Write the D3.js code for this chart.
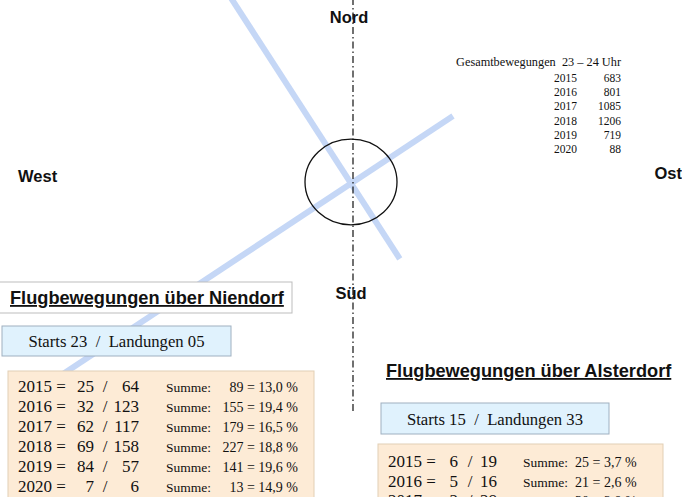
<!DOCTYPE html>
<html>
<head>
<meta charset="utf-8">
<script src="https://cdn.jsdelivr.net/npm/d3@7"></script>
<style>
  body { margin: 0; background: #fff; }
  svg { display: block; }
  text { white-space: pre; }
  .serif { font-family: "Liberation Serif", "Times New Roman", serif; fill: #111; }
  .sans { font-family: "Liberation Sans", Arial, sans-serif; font-weight: bold; fill: #111; }
</style>
</head>
<body>
<svg id="chart" width="682" height="497"></svg>
<script>
// totals 23-24 Uhr
var totalYears = [2015, 2016, 2017, 2018, 2019, 2020];
var totalValues = [683, 801, 1085, 1206, 719, 88];

// Niendorf
var nYears = [2015, 2016, 2017, 2018, 2019, 2020];
var nStarts = [25, 32, 62, 69, 84, 7];
var nLandungen = [64, 123, 117, 158, 57, 6];
var nSumme = [89, 155, 179, 227, 141, 13];
var nProzent = ["13,0", "19,4", "16,5", "18,8", "19,6", "14,9"];

// Alsterdorf (only first rows visible)
var aYears = [2015, 2016, 2017];
var aStarts = [6, 5, 2];
var aLandungen = [19, 16, 28];
var aSumme = [25, 21, 30];
var aProzent = ["3,7", "2,6", "2,8"];

// runway headings in compass plot (endpoints in plot units, centre = 0,0)
var runways = [
  { name: "05/23", x1: -7.2, y1: -4.8, x2: 2.55, y2: 1.65 },
  { name: "15/33", x1: -3.0, y1: 4.6, x2: 1.22, y2: -1.92 }
];

var svg = d3.select("#chart");

// compass scale: 1 unit ~ 40px
var cx = d3.scaleLinear().domain([-1, 1]).range([311, 391]);
var cy = d3.scaleLinear().domain([-1, 1]).range([222, 142]);

// runways
svg.selectAll("line.rw").data(runways).enter().append("line")
  .attr("class", "rw")
  .attr("x1", d => cx(d.x1)).attr("y1", d => cy(d.y1))
  .attr("x2", d => cx(d.x2)).attr("y2", d => cy(d.y2))
  .attr("stroke", "#c5d7f6").attr("stroke-width", 6);

// north-south axis
svg.append("line")
  .attr("x1", cx(0.05)).attr("x2", cx(0.05))
  .attr("y1", cy(4.6)).attr("y2", cy(-5.8))
  .attr("stroke", "#111").attr("stroke-width", 1.2)
  .attr("stroke-dasharray", "7,3,1.5,3");

// circle
svg.append("ellipse")
  .attr("cx", cx(0)).attr("cy", cy(0))
  .attr("rx", cx(1.15) - cx(0)).attr("ry", cy(0) - cy(1.07))
  .attr("fill", "none").attr("stroke", "#111").attr("stroke-width", 1.3);

// directions
var dirs = [["Nord", 349, 23, "middle"], ["Süd", 351, 299, "middle"], ["West", 18, 182, "start"], ["Ost", 682, 179, "end"]];
dirs.forEach(function (d) {
  svg.append("text").attr("class", "sans").attr("x", d[1]).attr("y", d[2])
    .attr("text-anchor", d[3]).attr("font-size", 16.5).text(d[0]);
});

// totals legend
svg.append("text").attr("class", "serif").attr("x", 621).attr("y", 66)
  .attr("text-anchor", "end").attr("font-size", 12.3)
  .text("Gesamtbewegungen  23 – 24 Uhr");
var ty = d3.scalePoint().domain(totalYears).range([82, 153]);
var tg = svg.append("g").attr("class", "serif").attr("font-size", 11.5);
tg.selectAll("text.y").data(totalYears).enter().append("text")
  .attr("x", 577).attr("y", d => ty(d)).attr("text-anchor", "end").text(d => d);
tg.selectAll("text.v").data(totalValues).enter().append("text")
  .attr("x", 621).attr("y", (d, i) => ty(totalYears[i])).attr("text-anchor", "end").text(d => d);

function block(o) {
  // title
  if (o.titleBox) {
    svg.append("rect").attr("x", o.titleBox[0]).attr("y", o.titleBox[1])
      .attr("width", o.titleBox[2]).attr("height", o.titleBox[3])
      .attr("fill", "#fff").attr("stroke", "#bdbdbd");
  }
  svg.append("text").attr("class", "sans").attr("x", o.titleX).attr("y", o.titleY)
    .attr("font-size", 18.2).attr("text-decoration", "underline").text(o.title);

  // starts / landungen box
  var sb = o.startBox;
  svg.append("rect").attr("x", sb[0]).attr("y", sb[1]).attr("width", sb[2]).attr("height", sb[3])
    .attr("fill", "#e0f2fd").attr("stroke", "#9fb0c0");
  svg.append("text").attr("class", "serif").attr("x", sb[0] + sb[2] / 2).attr("y", sb[1] + sb[3] / 2 + 6)
    .attr("text-anchor", "middle").attr("font-size", 16.7)
    .text(o.startText);

  // table box
  var tb = o.tableBox;
  svg.append("rect").attr("x", tb[0]).attr("y", tb[1]).attr("width", tb[2]).attr("height", tb[3])
    .attr("fill", "#fdebd6").attr("stroke", "#e2cfb5");

  var ry = d3.scalePoint().domain(o.years).range([o.rowY0, o.rowY0 + o.rowStep * (o.years.length - 1)]);
  var g = svg.append("g").attr("class", "serif");
  o.years.forEach(function (yr, i) {
    var y = ry(yr);
    g.append("text").attr("x", o.colX[0]).attr("y", y).attr("font-size", 17).text(yr + " =");
    g.append("text").attr("x", o.colX[1]).attr("y", y).attr("font-size", 17).attr("text-anchor", "end").text(o.starts[i]);
    g.append("text").attr("x", o.colX[2]).attr("y", y).attr("font-size", 17).attr("text-anchor", "middle").text("/");
    g.append("text").attr("x", o.colX[3]).attr("y", y).attr("font-size", 17).attr("text-anchor", "end").text(o.landungen[i]);
    g.append("text").attr("x", o.colX[4]).attr("y", y).attr("font-size", 13.5).text("Summe:");
    g.append("text").attr("x", o.colX[5]).attr("y", y).attr("font-size", 14).attr("text-anchor", o.sumAnchor)
      .text(o.summe[i] + " = " + o.prozent[i] + " %");
  });
}

block({
  title: "Flugbewegungen über Niendorf", titleX: 10, titleY: 304,
  titleBox: [-2, 282, 294, 31],
  startBox: [2, 326, 229, 30], startText: "Starts 23  /  Landungen 05",
  tableBox: [8, 371, 306, 140],
  years: nYears, starts: nStarts, landungen: nLandungen, summe: nSumme, prozent: nProzent,
  rowY0: 392, rowStep: 20,
  colX: [18, 94, 105, 139, 166, 298], sumAnchor: "end"
});

block({
  title: "Flugbewegungen über Alsterdorf", titleX: 386, titleY: 377,
  titleBox: null,
  startBox: [381, 403, 228, 31], startText: "Starts 15  /  Landungen 33",
  tableBox: [378, 444, 285, 70],
  years: aYears, starts: aStarts, landungen: aLandungen, summe: aSumme, prozent: aProzent,
  rowY0: 467, rowStep: 19.5,
  colX: [388, 458, 470, 497, 523, 575], sumAnchor: "start"
});
</script>
</body>
</html>
